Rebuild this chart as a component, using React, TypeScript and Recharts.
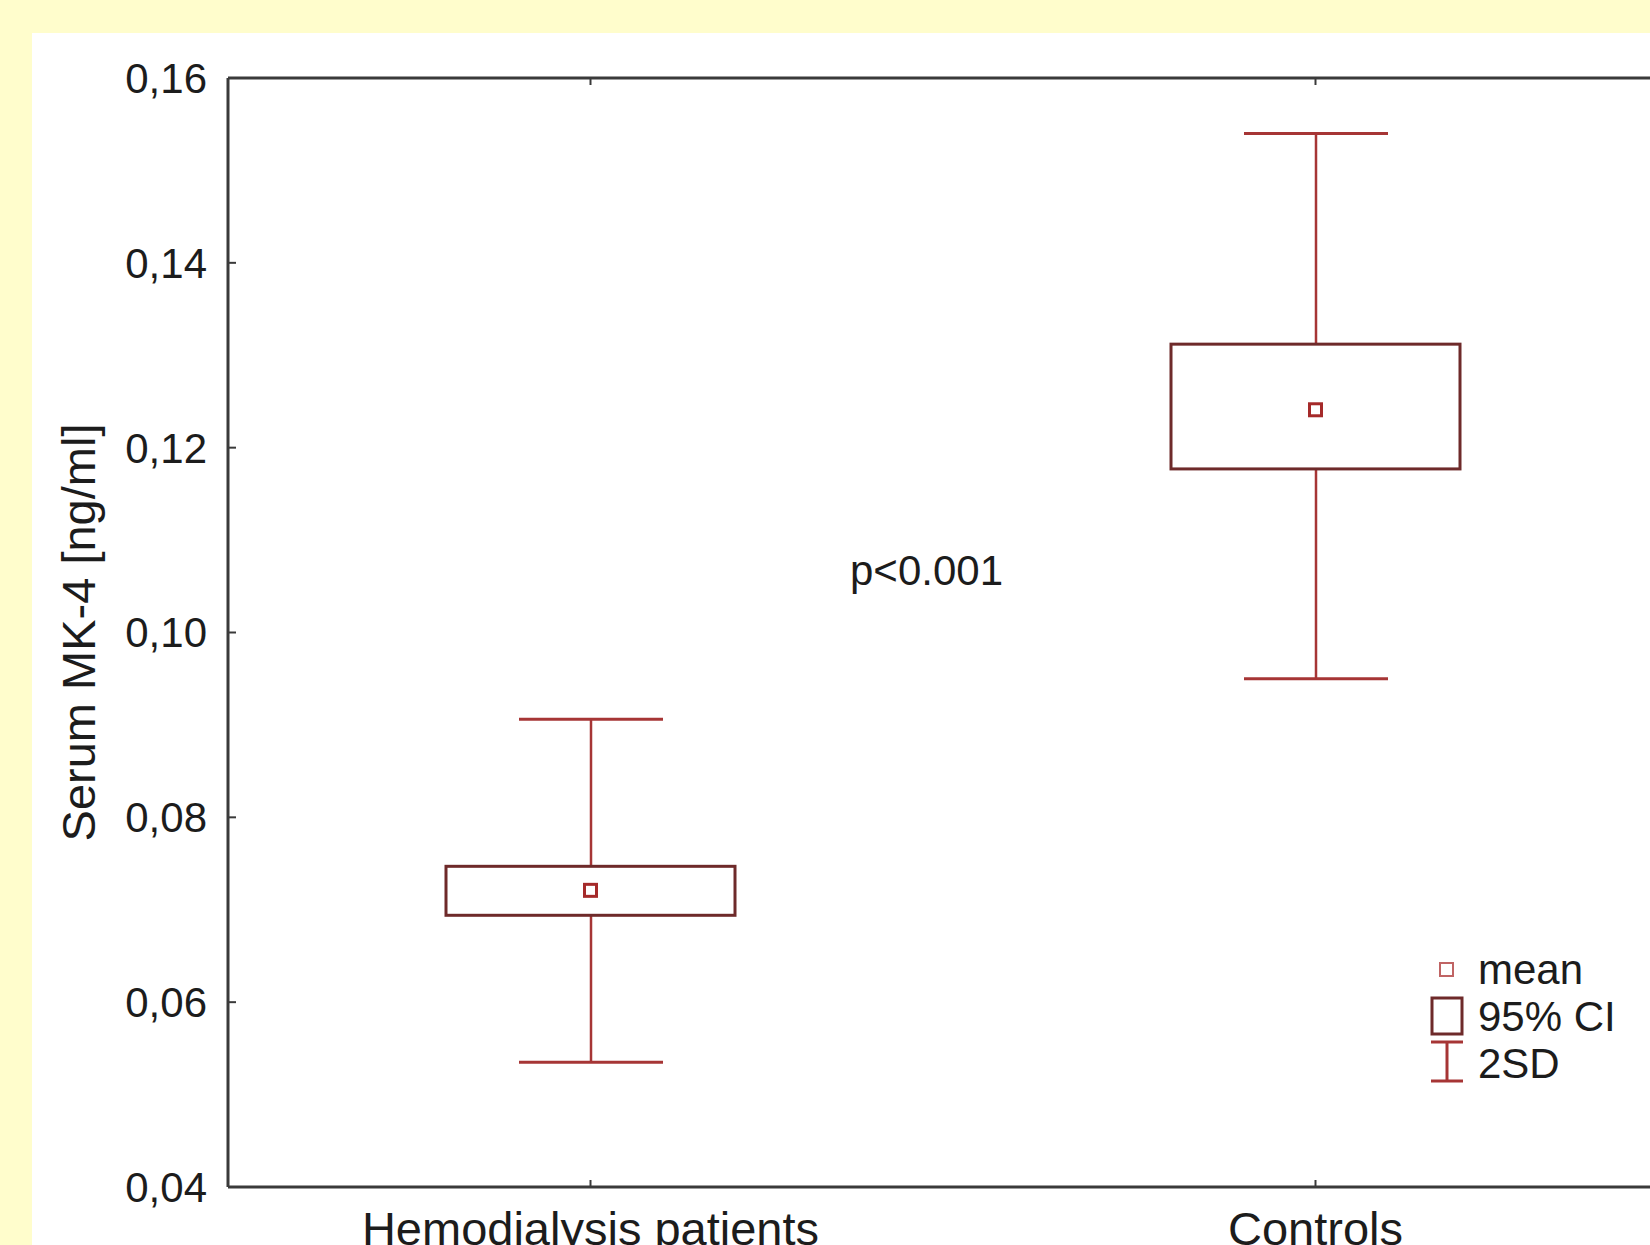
import React from "react"
import { ComposedChart, Bar, Scatter, XAxis, YAxis, Legend } from "recharts"

// group statistics (ng/ml)
const groups = ["Hemodialysis patients", "Controls"]
const means = [0.0721, 0.1241]
const ciLow = [0.0694, 0.1177]
const ciHigh = [0.0747, 0.1312]
const sdLow = [0.0535, 0.095]
const sdHigh = [0.0906, 0.154]
const yTicks = [0.04, 0.06, 0.08, 0.1, 0.12, 0.14, 0.16]
const legendLabels = ["mean", "95% CI", "2SD"]
const pText = "p<0.001"
const yTitle = "Serum MK-4 [ng/ml]"

const FONT = "'Liberation Sans', Arial, sans-serif"
const TEXT = "#1c1c1c"
const AXIS = "#3a3a3a"
const WHISKER = "#a63535"
const BOX = "#6e2a2a"
const MEAN = "#a52a2a"

const Y_MARGIN = 21
const X_MARGIN = 25

const data = groups.map((g, i) => ({
  group: g,
  mean: means[i],
  ci: [ciLow[i], ciHigh[i]],
  sd: [sdLow[i], sdHigh[i]],
}))

// ticks point inward, like the Statistica original
function YTick(props: any) {
  const { x, y, payload } = props
  const ax = x + Y_MARGIN
  return (
    <g>
      <line x1={ax} y1={y} x2={ax + 8} y2={y} stroke={AXIS} strokeWidth={2} />
      <text
        x={x}
        y={y}
        dy="0.355em"
        textAnchor="end"
        fill={TEXT}
        fontSize={42}
        fontFamily={FONT}
      >
        {Number(payload.value).toFixed(2).replace(".", ",")}
      </text>
    </g>
  )
}

function XTick(props: any) {
  const { x, y, payload } = props
  const ay = y - X_MARGIN
  return (
    <g>
      <line x1={x} y1={ay} x2={x} y2={ay - 7} stroke={AXIS} strokeWidth={2} />
      <text x={x} y={y} dy="0.71em" textAnchor="middle" fill={TEXT} fontSize={47} fontFamily={FONT}>
        {payload.value}
      </text>
    </g>
  )
}

function TopTick(props: any) {
  const { x, y } = props
  return <line x1={x} y1={y} x2={x} y2={y + 7} stroke={AXIS} strokeWidth={2} />
}

function WhiskerShape(props: any) {
  const { x, y, width, height } = props
  const top = Math.min(y, y + height)
  const bottom = Math.max(y, y + height)
  const cx = x + width / 2
  return (
    <g stroke={WHISKER} fill="none">
      <line x1={cx} y1={top} x2={cx} y2={bottom} strokeWidth={2.5} />
      <line x1={x} y1={top} x2={x + width} y2={top} strokeWidth={3} />
      <line x1={x} y1={bottom} x2={x + width} y2={bottom} strokeWidth={3} />
    </g>
  )
}

function BoxShape(props: any) {
  const { x, y, width, height } = props
  return (
    <rect
      x={x}
      y={Math.min(y, y + height)}
      width={width}
      height={Math.abs(height)}
      fill="#ffffff"
      stroke={BOX}
      strokeWidth={3}
    />
  )
}

function MeanShape(props: any) {
  const { cx, cy } = props
  return (
    <rect x={cx - 6} y={cy - 6} width={12} height={12} fill="#ffffff" stroke={MEAN} strokeWidth={3} />
  )
}

function LegendBox() {
  const icons = [
    <svg width={34} height={47} key="m">
      <rect x={10} y={17} width={13} height={13} fill="#fff" stroke="#c06464" strokeWidth={2} />
    </svg>,
    <svg width={34} height={47} key="c">
      <rect x={2} y={5} width={30} height={36} fill="#fff" stroke={BOX} strokeWidth={3} />
    </svg>,
    <svg width={34} height={47} key="s">
      <g stroke={WHISKER} strokeWidth={3}>
        <line x1={17} y1={2} x2={17} y2={41} />
        <line x1={1} y1={2} x2={33} y2={2} />
        <line x1={1} y1={41} x2={33} y2={41} />
      </g>
    </svg>,
  ]
  return (
    <div style={{ fontFamily: FONT, fontSize: 42, color: TEXT }}>
      {legendLabels.map((l, i) => (
        <div key={l} style={{ display: "flex", alignItems: "center", height: 47 }}>
          {icons[i]}
          <span style={{ marginLeft: 14, lineHeight: "47px" }}>{l}</span>
        </div>
      ))}
    </div>
  )
}

export default function App() {
  return (
    <div
      style={{
        position: "fixed",
        left: 0,
        top: 0,
        width: 1650,
        height: 1245,
        overflow: "hidden",
        background: "#fffdcc",
      }}
    >
      <div
        style={{ position: "absolute", left: 32, top: 33, right: 0, bottom: 0, background: "#ffffff" }}
      />
      <div style={{ position: "absolute", left: 0, top: 0 }}>
        <ComposedChart
          width={1700}
          height={1245}
          data={data}
          margin={{ top: 77, right: 22, left: 0, bottom: 0 }}
        >
          <XAxis
            xAxisId="bottom"
            dataKey="group"
            type="category"
            orientation="bottom"
            height={58}
            interval={0}
            axisLine={{ stroke: AXIS, strokeWidth: 3 }}
            tickLine={false}
            tickSize={0}
            tickMargin={X_MARGIN}
            tick={<XTick />}
          />
          <XAxis
            xAxisId="top"
            dataKey="group"
            type="category"
            orientation="top"
            height={1}
            interval={0}
            axisLine={{ stroke: AXIS, strokeWidth: 3 }}
            tickLine={false}
            tickSize={0}
            tickMargin={0}
            tick={<TopTick />}
          />
          <YAxis
            type="number"
            domain={[0.04, 0.16]}
            ticks={yTicks}
            width={228}
            axisLine={{ stroke: AXIS, strokeWidth: 3 }}
            tickLine={false}
            tickSize={0}
            tickMargin={Y_MARGIN}
            tick={<YTick />}
            label={{
              content: (p: any) => {
                const vb = p.viewBox || { y: 78, height: 1109 }
                const cy = vb.y + vb.height / 2
                return (
                  <text
                    x={95}
                    y={cy}
                    transform={`rotate(-90, 95, ${cy})`}
                    textAnchor="middle"
                    fill={TEXT}
                    fontSize={47}
                    fontFamily={FONT}
                  >
                    {yTitle}
                  </text>
                )
              },
            }}
          />
          <Bar
            xAxisId="top"
            dataKey="sd"
            barSize={144}
            shape={<WhiskerShape />}
            isAnimationActive={false}
          />
          <Bar
            xAxisId="bottom"
            dataKey="ci"
            barSize={289}
            shape={<BoxShape />}
            isAnimationActive={false}
          />
          <Scatter
            xAxisId="bottom"
            dataKey="mean"
            shape={<MeanShape />}
            isAnimationActive={false}
          />
          <Legend
            layout="horizontal"
            verticalAlign="middle"
            align="center"
            content={() => <LegendBox />}
            wrapperStyle={{ left: 1430, top: 946, width: 220, height: 141 }}
          />
        </ComposedChart>
      </div>
      <div
        style={{
          position: "absolute",
          left: 850,
          top: 547,
          fontFamily: FONT,
          fontSize: 42,
          lineHeight: "48px",
          color: TEXT,
          whiteSpace: "nowrap",
        }}
      >
        {pText}
      </div>
    </div>
  )
}
